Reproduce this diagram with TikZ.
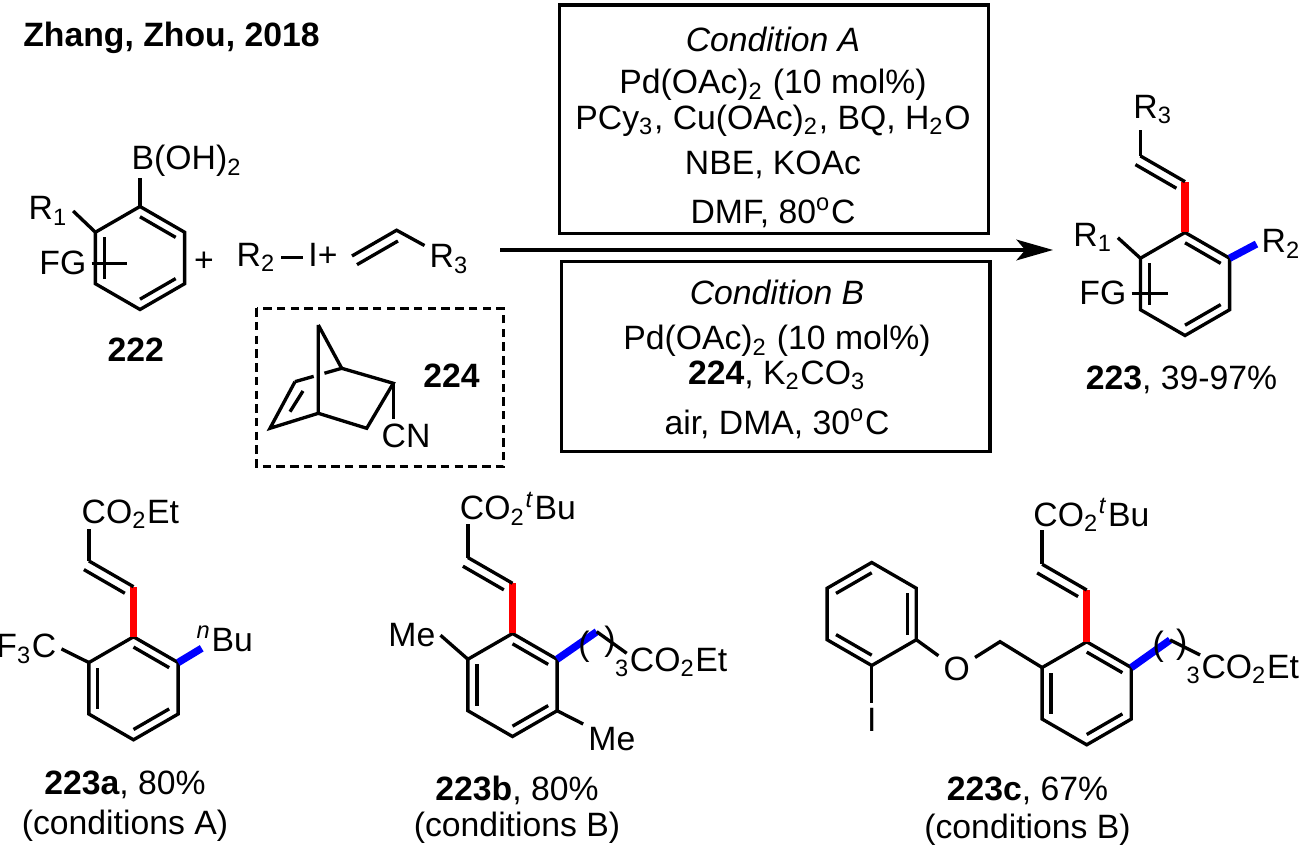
\documentclass[tikz,border=0pt]{standalone}
\usepackage{fontspec}
\setmainfont{Liberation Sans}
\usetikzlibrary{calc,arrows.meta}

\begin{document}
\begin{tikzpicture}[line width=0.95pt,
	font=\fontsize{9.6}{12.2}\selectfont,
	atom/.style={inner sep=1pt},
	redbond/.style={red, line width=2.1pt},
	bluebond/.style={blue, line width=2.1pt}]
	\useasboundingbox (0,0) rectangle (13.03,8.55);
	\node (title) [anchor=base west, inner sep=0pt] at (0.217,8.083) {\bfseries Zhang, Zhou, 2018};

	% benzene rings
	\foreach \r/\x/\y in {ringR/1.40/5.97, ringP/11.85/5.71, ringa/1.335/1.667, ringb/5.125/1.70, ringc/10.867/1.617, ringi/8.717/2.41} {
		\coordinate (\r) at (\x,\y);
		\foreach \k/\a in {1/90,2/30,3/-30,4/-90,5/210,6/150}
			\coordinate (\r\k) at ($(\r)+(\a:0.515)$);
		\draw (\r1) -- (\r2) -- (\r3) -- (\r4) -- (\r5) -- (\r6) -- cycle;
	}
	\foreach \r/\i/\j in {ringR/1/2, ringR/3/4, ringR/5/6, ringP/1/2, ringP/3/4, ringP/5/6,
		ringa/1/2, ringa/3/4, ringa/5/6, ringb/1/2, ringb/3/4, ringb/5/6,
		ringc/1/2, ringc/3/4, ringc/5/6, ringi/1/6, ringi/2/3, ringi/4/5}
		\draw ($(\r)!0.8!(\r\i)$) -- ($(\r)!0.8!(\r\j)$);

	% 222
	\node (boh) [atom, anchor=base west] at (1.265,6.85) {B(OH)\textsubscript{2}};
	\draw [shorten >=2.3pt] (ringR1) -- (ringR1 |- boh.base);
	\node (r1) [atom, anchor=base west] at (0.235,6.35) {R\textsubscript{1}};
	\draw (ringR6) -- (r1.east);
	\node (fg) [atom, anchor=base east] at (0.915,5.80) {FG};
	\coordinate (fgR) at (1.267,5.95);
	\draw (fg.east) -- (fg.east -| fgR);
	\node (n222) [anchor=base] at (1.358,4.933) {\bfseries 222};

	% aryl iodide and alkene
	\node (plus1) [anchor=base, inner sep=0pt] at (2.04,5.83) {+};
	\node (r2) [atom, anchor=base west] at (2.315,5.883) {R\textsubscript{2}};
	\node (iplus) [atom, anchor=base west] at (3.032,5.883) {I+};
	\draw (r2.east) -- (r2.east -| iplus.west);
	\coordinate (ene1) at (3.52,5.99);
	\coordinate (ene2) at (3.966,6.2475);
	\node (r3) [atom, anchor=base west] at (4.245,5.87) {R\textsubscript{3}};
	\draw (ene1) -- (ene2) -- (r3);
	\draw [shorten >=1.2pt] ($(ene1)!0.1cm!-90:(ene2)$) -- ($(ene2)!0.1cm!90:(ene1)$);

	% 224
	\draw [dash pattern=on 2.4pt off 1.5pt] (2.567,5.467) rectangle (5.033,3.883);
	\coordinate (nb1) at (3.183,4.417);
	\coordinate (nb2) at (3.667,4.267);
	\coordinate (nb3) at (3.933,4.717);
	\coordinate (nb4) at (3.417,4.867);
	\coordinate (nb5) at (2.95,4.733);
	\coordinate (nb6) at (2.70,4.267);
	\coordinate (nb7) at (3.183,5.30);
	\draw (nb7) -- (nb4) -- (nb3) -- (nb2) -- (nb1) -- (nb7);
	\draw (nb1) -- (nb6) -- (nb5);
	\draw (2.90,4.433) -- (3.03,4.64);
	\draw (nb5) -- ($(nb5)!0.40!(nb4)$);
	\draw ($(nb5)!0.63!(nb4)$) -- (nb4);
	\node (cn) [atom, anchor=base west] at (3.765,4.07) {CN};
	\draw (nb3) -- (nb3 |- cn.north);
	\node (n224) [anchor=base west, inner sep=0pt] at (4.217,4.67) {\bfseries 224};

	% arrow and conditions
	\coordinate (arrS) at (5.00,6.05);
	\coordinate (arrE) at (10.53,6.05);
	\draw [-{Stealth[length=10.4pt,width=5.9pt,inset=2.5pt]}] (arrS) -- (arrE);
	\draw (5.593,8.50) rectangle (9.883,6.217);
	\node (condA) [anchor=north, align=center, inner sep=0pt] at (7.73,8.2925) {\textit{Condition A}\\[-0.01cm]
		Pd(OAc)\textsubscript{2} (10 mol\%)\\[-0.07cm]
		PCy\textsubscript{3}, Cu(OAc)\textsubscript{2}, BQ, H\textsubscript{2}O\\[0.02cm]
		NBE, KOAc\\[0.06cm]
		DMF, 80\textsuperscript{o}C};
	\draw (5.617,5.933) rectangle (9.90,4.033);
	\node (condB) [anchor=north, align=center, inner sep=0pt] at (7.77,5.7625) {\textit{Condition B}\\[0.02cm]
		Pd(OAc)\textsubscript{2} (10 mol\%)\\[-0.08cm]
		\textbf{224}, K\textsubscript{2}CO\textsubscript{3}\\[0.07cm]
		air, DMA, 30\textsuperscript{o}C};

	% 223
	\coordinate (pv1) at (11.85,6.733);
	\coordinate (pv2) at (11.404,6.9905);
	\draw [redbond] (ringP1) -- (pv1);
	\draw (pv1) -- (pv2);
	\draw [shorten >=1.2pt] ($(pv2)!0.1cm!-90:(pv1)$) -- ($(pv1)!0.1cm!90:(pv2)$);
	\node (r3p) [atom, anchor=base west] at (11.282,7.367) {R\textsubscript{3}};
	\draw [shorten >=3.3pt] (pv2) -- (pv2 |- r3p.base);
	\node (r1p) [atom, anchor=base west] at (10.682,6.083) {R\textsubscript{1}};
	\draw (ringP6) -- (r1p.east);
	\node (r2p) [atom, anchor=base west] at (12.565,6.02) {R\textsubscript{2}};
	\draw [bluebond] (ringP2) -- (r2p.west);
	\node (fgp) [atom, anchor=base east] at (11.315,5.50) {FG};
	\coordinate (fgpR) at (11.68,5.633);
	\draw (fgp.east) -- (fgp.east -| fgpR);
	\node (n223) [anchor=base] at (11.815,4.65) {\textbf{223}, 39-97\%};

	% 223a
	\coordinate (va1) at (1.335,2.683);
	\coordinate (va2) at (0.889,2.9405);
	\draw [redbond] (ringa1) -- (va1);
	\draw (va1) -- (va2);
	\draw [shorten >=1.2pt] ($(va2)!0.1cm!-90:(va1)$) -- ($(va1)!0.1cm!90:(va2)$);
	\node (co2a) [atom, anchor=base west] at (0.765,3.317) {CO\textsubscript{2}Et};
	\draw [shorten >=1.5pt] (va2) -- (va2 |- co2a.base);
	\node (cf3) [atom, anchor=base east] at (0.615,1.97) {F\textsubscript{3}C};
	\draw (ringa6) -- (cf3.east);
	\node (nbu) [atom, anchor=base west] at (1.915,2.033) {\textsuperscript{\textit{n}}Bu};
	\coordinate (nbuC) at (2.017,2.067);
	\draw [bluebond] (ringa2) -- (nbuC);
	\node (n223a) [anchor=north, align=center, inner sep=0pt] at (1.25,0.86) {\textbf{223a}, 80\%\\[-0.03cm](conditions A)};

	% 223b
	\coordinate (vb1) at (5.125,2.717);
	\coordinate (vb2) at (4.679,2.9745);
	\draw [redbond] (ringb1) -- (vb1);
	\draw (vb1) -- (vb2);
	\draw [shorten >=1.2pt] ($(vb2)!0.1cm!-90:(vb1)$) -- ($(vb1)!0.1cm!90:(vb2)$);
	\node (co2b) [atom, anchor=base west] at (4.548,3.35) {CO\textsubscript{2}\textsuperscript{\textit{t}}Bu};
	\draw [shorten >=1pt] (vb2) -- (vb2 |- co2b.base);
	\node (meb1) [atom, anchor=base east] at (4.405,2.083) {Me};
	\draw (ringb6) -- (meb1.east);
	\node (meb2) [atom, anchor=base west] at (5.832,1.05) {Me};
	\draw (ringb3) -- (meb2);
	\coordinate (bch1) at (5.967,2.233);
	\coordinate (bch2) at (6.267,2.017);
	\draw [bluebond] (ringb2) -- (bch1);
	\draw (bch1) -- (bch2);
	\node (pbl) [inner sep=0pt] at (5.84,2.083) {(};
	\node (pbr) [inner sep=0pt] at (6.10,2.133) {)};
	\node (chb) [atom, anchor=base west] at (6.098,1.833) {\textsubscript{3}CO\textsubscript{2}Et};
	\node (n223b) [anchor=north, align=center, inner sep=0pt] at (5.17,0.81) {\textbf{223b}, 80\%\\[-0.06cm](conditions B)};

	% 223c
	\coordinate (vc1) at (10.867,2.65);
	\coordinate (vc2) at (10.421,2.9075);
	\draw [redbond] (ringc1) -- (vc1);
	\draw (vc1) -- (vc2);
	\draw [shorten >=1.2pt] ($(vc2)!0.1cm!-90:(vc1)$) -- ($(vc1)!0.1cm!90:(vc2)$);
	\node (co2c) [atom, anchor=base west] at (10.282,3.283) {CO\textsubscript{2}\textsuperscript{\textit{t}}Bu};
	\draw [shorten >=1pt] (vc2) -- (vc2 |- co2c.base);
	\coordinate (cch1) at (11.70,2.15);
	\coordinate (cch2) at (12.00,2.00);
	\draw [bluebond] (ringc2) -- (cch1);
	\draw (cch1) -- (cch2);
	\node (pcl) [inner sep=0pt] at (11.583,2.083) {(};
	\node (pcr) [inner sep=0pt] at (11.817,2.10) {)};
	\node (chc) [atom, anchor=base west] at (11.815,1.765) {\textsubscript{3}CO\textsubscript{2}Et};
	\node (oc) [atom] at (9.567,1.86) {O};
	\coordinate (ch2c) at (10.00,2.133);
	\draw (ringc6) -- (ch2c) -- (oc);
	\draw (ringi3) -- (oc);
	\node (io) [atom, anchor=base] at (8.717,1.233) {I};
	\draw (ringi4) -- (ringi4 |- io.north);
	\node (n223c) [anchor=north, align=center, inner sep=0pt] at (10.275,0.7925) {\textbf{223c}, 67\%\\[-0.05cm](conditions B)};
\end{tikzpicture}
\end{document}
